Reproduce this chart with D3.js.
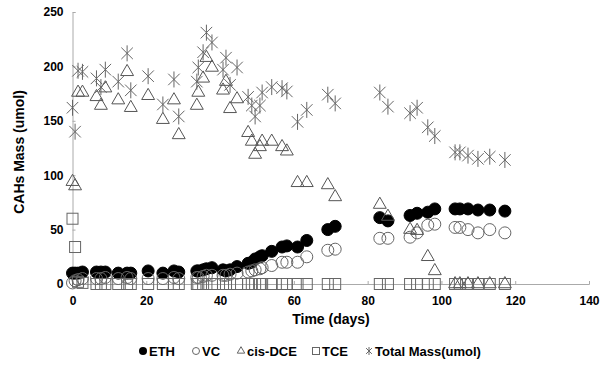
<!DOCTYPE html>
<html>
<head>
<meta charset="utf-8">
<script src="https://cdn.jsdelivr.net/npm/d3@7"></script>
<style>
  body { margin: 0; background: #fff; }
  text { font-family: "Liberation Sans", Arial, sans-serif; font-weight: bold; fill: #000; }
</style>
</head>
<body>
<svg id="chart" width="604" height="376"></svg>
<script>
var width = 604;
var height = 376;

// sampling days (shared by every series)
var days = [0, 0.7, 1.5, 2.7, 6.5, 7.7, 8.9, 12.4, 14.8, 15.8, 20.5, 24.5, 27.5, 28.8,
    33.7, 34.1, 35.4, 36.3, 37.8, 40.8, 41.6, 42.7, 44.6, 47.6, 48.6, 49.5, 50.8, 51.4,
    54, 56.8, 58.1, 61, 63.5, 69.2, 71.2, 83.3, 85.5, 91.5, 93.4, 96.3, 98.2,
    103.7, 105, 107.2, 109.9, 113.1, 117.2];

var eth = [10, 10, 10, 11, 11, 11, 11, 10, 10, 10, 12, 10, 12, 11, 12, 12, 13, 14, 15, 13,
    12, 13, 16, 19, 20, 23, 25, 26, 30, 34, 35, 34, 40, 50, 53, 61, 58, 63, 65, 66,
    69, 69, 69, 69, 68, 68, 67];
var vc = [1, 3, 4, 5, 5, 5, 6, 5, 6, 5, 5, 5, 6, 5, 6, 6, 7, 8, 8, 8,
    8, 9, 10, 11, 12, 13, 14, 15, 17, 20, 20, 20, 25, 31, 32, 42, 42, 43, 47, 54,
    55, 52, 52, 50, 47, 50, 47];
var dce = [94, 90, 176, 176, 172, 164, 180, 169, 195, 162, 173, 151, 169, 137, 164, 176, 189, 208, 199, 178,
    186, 161, 170, 139, 131, 119, 126, 131, 131, 126, 122, 93, 93, 91, 80, 73, 62, 50, 49, 25,
    12, 0, 0, 0, 0, 0, 0];
var tce = [60, 34, 2, 1, 0, 0, 0, 0, 0, 0, 0, 0, 0, 0, 0, 0, 0, 0, 0, 0,
    0, 0, 0, 0, 0, 0, 0, 0, 0, 0, 0, 0, 0, 0, 0, 0, 0, 0, 0, 0,
    0, 0, 0, 0, 0, 0, 0];
var total = [162, 140, 196, 195, 189, 181, 197, 186, 212, 178, 191, 165, 188, 154, 186, 199, 213, 231, 222, 197,
    208, 183, 199, 172, 164, 154, 164, 176, 181, 180, 177, 149, 160, 174, 166, 176, 163, 157, 162, 144,
    136, 121, 121, 118, 115, 117, 114];

var xTicks = [0, 20, 40, 60, 80, 100, 120, 140];
var yTicks = [0, 50, 100, 150, 200, 250];

var seriesNames = ["ETH", "VC", "cis-DCE", "TCE", "Total Mass(umol)"];
var seriesValues = [eth, vc, dce, tce, total];

var svg = d3.select("#chart");

var x = d3.scaleLinear().domain([0, 140]).range([72.5, 589]);
var y = d3.scaleLinear().domain([0, 250]).range([284, 12]);

// marker drawing for each series
var star = function(s) {
    var h = s / 2, d = s * 0.36;
    return "M0," + (-h) + "L0," + h + "M" + (-d) + "," + (-d) + "L" + d + "," + d +
        "M" + (-d) + "," + d + "L" + d + "," + (-d);
};
var markers = [
    function(g) { g.append("circle").attr("r", 6).style("fill", "#000").style("stroke", "#000"); },
    function(g) { g.append("circle").attr("r", 6).style("fill", "none").style("stroke", "#666"); },
    function(g) { g.append("path").attr("d", d3.symbol(d3.symbolTriangle, 72)()).style("fill", "none").style("stroke", "#555"); },
    function(g) { g.append("rect").attr("x", -5.5).attr("y", -5.5).attr("width", 11).attr("height", 11).style("fill", "none").style("stroke", "#666"); },
    function(g) { g.append("path").attr("d", star(16)).style("fill", "none").style("stroke", "#666"); }
];

// axes
var xAxis = d3.axisBottom(x).tickValues(xTicks).tickSize(-3).tickPadding(12);
svg.append("g")
    .attr("transform", "translate(0,284)")
    .call(xAxis)
    .call(function(g) {
        g.selectAll("path, line").style("stroke", "#aaa");
        g.selectAll("text").style("font-size", "12px").attr("fill", "#000");
    });

var yAxis = d3.axisLeft(y).tickValues(yTicks).tickSize(-3).tickPadding(9);
svg.append("g")
    .attr("transform", "translate(72.5,0)")
    .call(yAxis)
    .call(function(g) {
        g.selectAll("path, line").style("stroke", "#aaa");
        g.selectAll("text").style("font-size", "12px").attr("fill", "#000");
    });

// points
seriesValues.forEach(function(vals, i) {
    var pts = days.map(function(d, j) { return {t: d, v: vals[j]}; })
        .filter(function(p) { return p.v != null; });
    svg.append("g").selectAll("g")
        .data(pts)
        .enter().append("g")
        .attr("transform", function(p) { return "translate(" + x(p.t) + "," + y(p.v) + ")"; })
        .each(function() { markers[i](d3.select(this)); });
});

// axis titles
svg.append("text")
    .attr("transform", "translate(24,152) rotate(-90)")
    .style("text-anchor", "middle")
    .style("font-size", "14px")
    .text("CAHs Mass (umol)");

svg.append("text")
    .attr("x", 331)
    .attr("y", 324)
    .style("text-anchor", "middle")
    .style("font-size", "14px")
    .text("Time (days)");

// legend
var legendX = [143, 196, 241, 316, 369];
var legendMarks = [
    function(g) { g.append("circle").attr("r", 4).style("fill", "#000"); },
    function(g) { g.append("circle").attr("r", 3.5).style("fill", "none").style("stroke", "#666"); },
    function(g) { g.append("path").attr("d", d3.symbol(d3.symbolTriangle, 24)()).style("fill", "none").style("stroke", "#666"); },
    function(g) { g.append("rect").attr("x", -3.5).attr("y", -3.5).attr("width", 7).attr("height", 7).style("fill", "none").style("stroke", "#666"); },
    function(g) { g.append("path").attr("d", star(8)).style("fill", "none").style("stroke", "#666"); }
];
seriesNames.forEach(function(name, i) {
    var g = svg.append("g").attr("transform", "translate(" + legendX[i] + ",351)");
    legendMarks[i](g);
    g.append("text")
        .attr("x", 6)
        .attr("y", 5)
        .style("font-size", "13px")
        .text(name);
});
</script>
</body>
</html>
